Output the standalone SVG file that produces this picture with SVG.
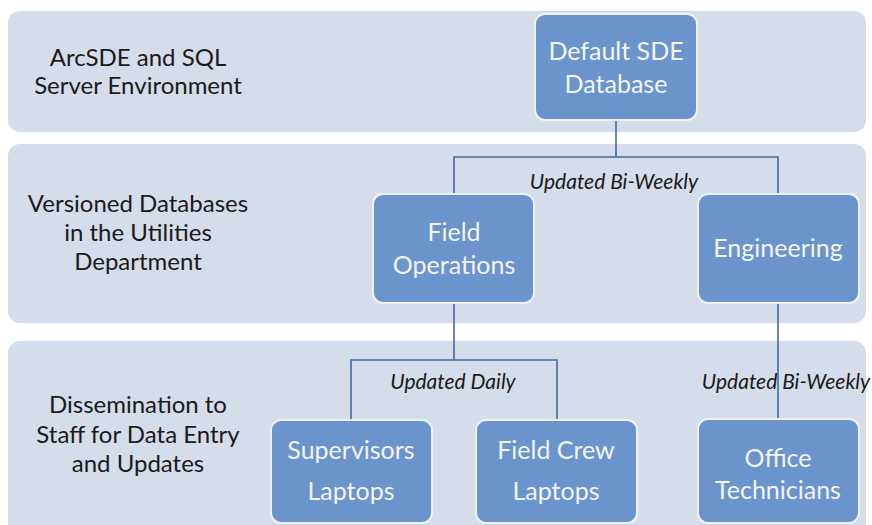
<svg xmlns="http://www.w3.org/2000/svg" width="872" height="525" viewBox="0 0 872 525">
  <style>
    .band { fill: #d5dcea; }
    .box { fill: #6b93cc; stroke: #eef2f9; stroke-width: 2; }
    .boxtext { font-family: Lato, "Open Sans", sans-serif; font-size: 25px; fill: #f4f6fb; text-anchor: middle; }
    .label { font-family: Lato, "Open Sans", sans-serif; font-size: 24px; fill: #1a1a1a; text-anchor: middle; }
    .edge { font-family: Lato, "Open Sans", sans-serif; font-size: 21px; font-style: italic; fill: #1a1a1a; text-anchor: middle; }
    .conn { fill: none; stroke: #4668a0; stroke-width: 1.6; }
  </style>
  <rect width="872" height="525" fill="#ffffff"/>

  <!-- tier bands -->
  <g id="bands">
    <rect class="band" x="8" y="11" width="858" height="121" rx="12"/>
    <rect class="band" x="8" y="144" width="858" height="179" rx="12"/>
    <rect class="band" x="8" y="341" width="858" height="200" rx="12"/>
  </g>

  <!-- tier labels -->
  <g id="tier-labels">
    <text class="label" x="138" y="66">ArcSDE and SQL</text>
    <text class="label" x="138" y="94">Server Environment</text>
    <text class="label" x="138" y="212">Versioned Databases</text>
    <text class="label" x="138" y="241">in the Utilities</text>
    <text class="label" x="138" y="270">Department</text>
    <text class="label" x="138" y="413">Dissemination to</text>
    <text class="label" x="138" y="443">Staff for Data Entry</text>
    <text class="label" x="138" y="472">and Updates</text>
  </g>

  <!-- connectors -->
  <g id="connectors">
    <path class="conn" d="M616 120 V157"/>
    <path class="conn" d="M454 194 V157 H778 V194"/>
    <path class="conn" d="M454 303 V360"/>
    <path class="conn" d="M351 420 V360 H557 V420"/>
    <path class="conn" d="M778 303 V419"/>
    <text class="edge" x="614" y="189">Updated Bi-Weekly</text>
    <text class="edge" x="453" y="389">Updated Daily</text>
    <text class="edge" x="786" y="389">Updated Bi-Weekly</text>
  </g>

  <g id="default-sde">
    <rect class="box" x="535" y="14" width="162" height="106" rx="10"/>
    <text class="boxtext" x="616" y="60">Default SDE</text>
    <text class="boxtext" x="616" y="93">Database</text>
  </g>

  <g id="field-operations">
    <rect class="box" x="373" y="194" width="161" height="109" rx="10"/>
    <text class="boxtext" x="454" y="241">Field</text>
    <text class="boxtext" x="454" y="274">Operations</text>
  </g>

  <g id="engineering">
    <rect class="box" x="698" y="194" width="161" height="109" rx="10"/>
    <text class="boxtext" x="778" y="257">Engineering</text>
  </g>

  <g id="supervisors-laptops">
    <rect class="box" x="271" y="420" width="161" height="103" rx="10"/>
    <text class="boxtext" x="351" y="459">Supervisors</text>
    <text class="boxtext" x="351" y="500">Laptops</text>
  </g>

  <g id="field-crew-laptops">
    <rect class="box" x="476" y="420" width="161" height="103" rx="10"/>
    <text class="boxtext" x="556" y="459">Field Crew</text>
    <text class="boxtext" x="556" y="500">Laptops</text>
  </g>

  <g id="office-technicians">
    <rect class="box" x="698" y="419" width="161" height="104" rx="10"/>
    <text class="boxtext" x="778" y="467">Office</text>
    <text class="boxtext" x="778" y="499">Technicians</text>
  </g>
</svg>
